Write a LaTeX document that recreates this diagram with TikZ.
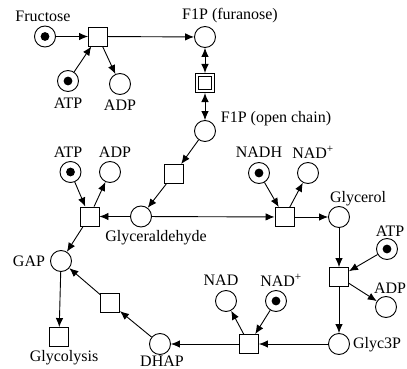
\documentclass[tikz,border=0pt]{standalone}
\usepackage{fontspec}
\setmainfont{Liberation Serif}
\usetikzlibrary{arrows.meta}

\begin{document}
\begin{tikzpicture}[
    x=1pt, y=-1pt,
    >={Latex[length=9pt,width=7.5pt]},
    font=\fontsize{16}{18}\selectfont,
    pnode/.style={circle, draw, line width=0.9pt, minimum size=21pt,
                  inner sep=0pt},
    tok/.style={pnode, path picture={
                  \fill (path picture bounding box.center) circle (4.4pt);}},
    tnode/.style={rectangle, draw, line width=0.9pt, minimum size=19pt,
                  inner sep=0pt},
    dtnode/.style={tnode, minimum size=16pt, line width=0.7pt,
                   double, double distance=2.6pt, outer sep=2pt},
    flow/.style={->, line width=0.9pt},
    lbl/.style={inner sep=0pt}
  ]
  \useasboundingbox (0,0) rectangle (407,369);

  % Fructose phosphorylation.
  \node[tok]   (fru)  at (45,36.5)  {};
  \node[tnode] (t1)   at (98,36.5)  {};
  \node[tok]   (atpA) at (68,81)    {};
  \node[pnode] (adpA) at (120,84)   {};

  % F1P forms.
  \node[pnode]  (f1pf) at (205,37)  {};
  \node[dtnode] (tiso) at (205,83)  {};
  \node[pnode]  (f1po) at (205,131) {};

  % Aldolase and the glyceraldehyde branch.
  \node[tnode] (tald) at (174,174)  {};
  \node[pnode] (gla)  at (141,216.5) {};
  \node[tnode] (tkin) at (89.5,216.5) {};
  \node[tok]   (atpB) at (70.5,172) {};
  \node[pnode] (adpB) at (110,172)  {};
  \node[pnode] (gap)  at (61,261)   {};
  \node[tnode] (tgly) at (59,337)   {};
  \node[tnode] (ttim) at (110,303)  {};
  \node[pnode] (dhap) at (160,344)  {};

  % Glycerol route.
  \node[tnode] (tred) at (284.5,217) {};
  \node[tok]   (nadh) at (259,173)  {};
  \node[pnode] (nadA) at (308,173)  {};
  \node[pnode] (glyc) at (339,217)  {};
  \node[tnode] (tgk)  at (339,277)  {};
  \node[tok]   (atpC) at (387,249)  {};
  \node[pnode] (adpC) at (386,307)  {};
  \node[pnode] (g3p)  at (339,344)  {};
  \node[tnode] (tdh)  at (249,344)  {};
  \node[pnode] (nadB) at (226,301)  {};
  \node[tok]   (nadC) at (276,301)  {};

  % Labels.
  \node[lbl] (lfru)  at (43,16)   {Fructose};
  \node[lbl] (latpA) at (68,103)  {ATP};
  \node[lbl] (ladpA) at (120,105) {ADP};
  \node[lbl] (lf1pf) at (230,16)  {F1P (furanose)};
  \node[lbl] (lf1po) at (276,119) {F1P (open chain)};
  \node[lbl] (lgla)  at (156,238) {Glyceraldehyde};
  \node[lbl] (latpB) at (68,152)  {ATP};
  \node[lbl] (ladpB) at (115,152) {ADP};
  \node[lbl] (lgap)  at (29,261)  {GAP};
  \node[lbl] (ltgly) at (64,358)  {Glycolysis};
  \node[lbl] (ldhap) at (162,361.5) {DHAP};
  \node[lbl] (lnadh) at (259,152) {NADH};
  \node[lbl] (lnadA) at (313,152) {NAD\textsuperscript{+}};
  \node[lbl] (lglyc) at (358,199) {Glycerol};
  \node[lbl] (latpC) at (390,231) {ATP};
  \node[lbl] (ladpC) at (390,288) {ADP};
  \node[lbl] (lg3p)  at (377,345) {Glyc3P};
  \node[lbl] (lnadB) at (221,280) {NAD};
  \node[lbl] (lnadC) at (281,280) {NAD\textsuperscript{+}};

  % Arcs.
  \draw[flow] (fru) -- (t1);
  \draw[flow] (atpA) -- (t1);
  \draw[flow] (t1) -- (adpA);
  \draw[flow] (t1) -- (f1pf);
  \draw[flow, <->] (f1pf) -- (tiso);
  \draw[flow, <->] (tiso) -- (f1po);
  \draw[flow] (f1po) -- (tald);
  \draw[flow] (tald) -- (gla);
  \draw[flow] (gla) -- (tkin);
  \draw[flow] (gla) -- (tred);
  \draw[flow] (atpB) -- (tkin);
  \draw[flow] (tkin) -- (adpB);
  \draw[flow] (tkin) -- (gap);
  \draw[flow] (gap) -- (tgly);
  \draw[flow] (dhap) -- (ttim);
  \draw[flow] (ttim) -- (gap);
  \draw[flow] (nadh) -- (tred);
  \draw[flow] (tred) -- (nadA);
  \draw[flow] (tred) -- (glyc);
  \draw[flow] (glyc) -- (tgk);
  \draw[flow] (atpC) -- (tgk);
  \draw[flow] (tgk) -- (adpC);
  \draw[flow] (tgk) -- (g3p);
  \draw[flow] (g3p) -- (tdh);
  \draw[flow] (nadC) -- (tdh);
  \draw[flow] (tdh) -- (nadB);
  \draw[flow] (tdh) -- (dhap);

\end{tikzpicture}
\end{document}
